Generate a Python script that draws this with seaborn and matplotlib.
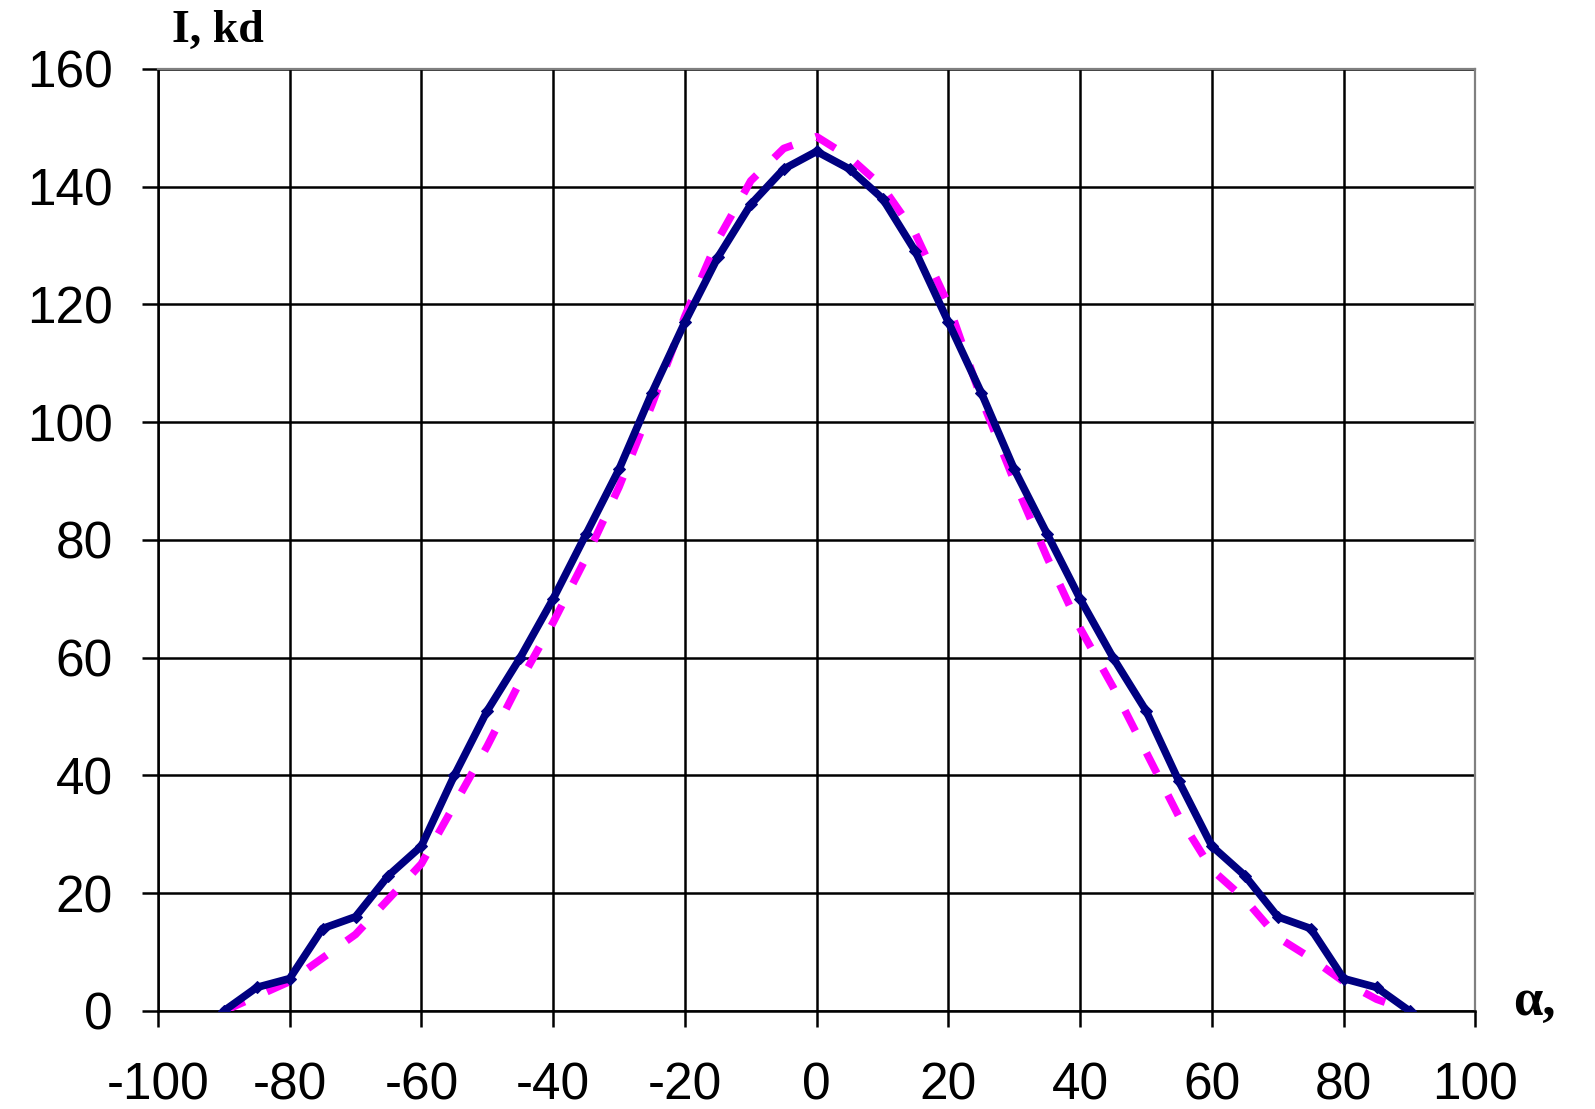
import numpy as np
import pandas as pd
import matplotlib
matplotlib.use("Agg")
import matplotlib.pyplot as plt
import seaborn as sns

# angle, degrees
alpha = list(range(-90, 95, 5))

# measured intensity (solid navy)
i_measured = [0, 4, 5.5, 14, 16, 23, 28, 40, 51, 60, 70, 81, 92, 105, 117, 128, 137, 143,
              146, 143, 138, 129, 117, 105, 92, 81, 70, 60, 51, 39, 28, 23, 16, 14, 5.5, 4, 0]
# calculated intensity (dashed magenta)
i_calc = [0, 2.5, 5, 9, 13, 19, 25, 35, 45, 56, 66, 77, 89, 103, 118, 131, 141, 146.5,
          148.5, 145, 140, 132, 120, 104, 90, 77, 65, 55, 44, 33, 24, 19, 12.5, 9, 5, 2, 0]

x_ticks = list(range(-100, 101, 20))
y_ticks = list(range(0, 161, 20))

df = pd.DataFrame({"alpha": alpha, "measured": i_measured, "calc": i_calc})

sns.set_style("white")
plt.rcParams['font.family'] = ['Liberation Sans', 'DejaVu Sans']
plt.rcParams['axes.unicode_minus'] = False

fig = plt.figure(figsize=(15.95, 11.09), dpi=100)
ax = fig.add_axes([0.099, 0.0884, 0.826, 0.8494])

sns.lineplot(data=df, x="alpha", y="calc", ax=ax, color="#FF00FF", lw=5.5,
             legend=False, zorder=3)
ax.lines[-1].set_dashes((3, 3.2))
sns.lineplot(data=df, x="alpha", y="measured", ax=ax, color="#000080", lw=5.5,
             marker="D", markersize=6, markeredgecolor="#000080", legend=False, zorder=4)

ax.set_xlim(-100, 100)
ax.set_ylim(0, 160)
ax.set_xticks(x_ticks)
ax.set_yticks(y_ticks)
ax.set_xlabel("")
ax.set_ylabel("")
ax.grid(True, color="black", lw=1.8)
ax.set_axisbelow(True)

for side in ["left", "bottom"]:
    ax.spines[side].set_color("black")
    ax.spines[side].set_linewidth(1.8)
for side in ["top", "right"]:
    ax.spines[side].set_color("#808080")
    ax.spines[side].set_linewidth(1.6)

ax.tick_params(axis="both", direction="out", length=11.5, width=1.8, colors="black",
               labelsize=37)
ax.tick_params(axis="x", pad=25, bottom=True)
ax.tick_params(axis="y", pad=21, left=True)

fig.text(172 / 1595, 1 - 42 / 1109, "I, kd", family="Liberation Serif", weight="bold",
         fontsize=33, color="black", ha="left", va="baseline")
fig.text(1513 / 1595, 1 - 1015 / 1109, "α,", family="Liberation Serif", weight="bold",
         fontsize=38, color="black", ha="left", va="baseline")

fig.savefig("out.png", dpi=100)
